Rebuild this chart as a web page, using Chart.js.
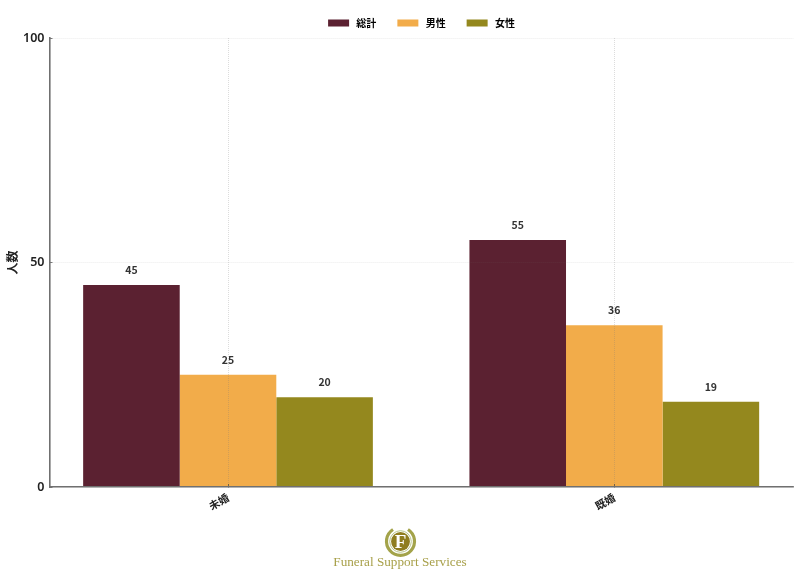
<!DOCTYPE html>
<html><head><meta charset="utf-8">
<style>
html,body{margin:0;padding:0;background:#fff;width:800px;height:578px;overflow:hidden}
#wrap{position:relative;width:800px;height:578px}
#logoText{position:absolute;left:0;width:800px;top:553px;text-align:center;font:13.2px "Liberation Serif",serif;color:#a8a04a;line-height:18px}
#logo{position:absolute;left:384px;top:527px}
</style>
<script src="https://cdn.jsdelivr.net/npm/chart.js@4"></script>
</head><body>
<div id="wrap">
<canvas id="c" width="800" height="578"></canvas>
<svg id="logo" width="33" height="31" viewBox="0 0 33 31">
<path d="M9 2.5 A14 14 0 1 0 24 2.5" fill="none" stroke="#a3a34a" stroke-width="3.2"/>
<circle cx="16.5" cy="14.5" r="10.8" fill="none" stroke="#b9c58c" stroke-width="1"/>
<circle cx="16.5" cy="14.5" r="9.4" fill="#8f7d20"/>
<text x="16.5" y="21" text-anchor="middle" font-family="Liberation Serif" font-weight="bold" font-size="19" fill="#fff">F</text>
</svg>
<div id="logoText">Funeral Support Services</div>
</div>
<script>
const categories = ['未婚', '既婚'];
const seriesNames = ['総計', '男性', '女性'];
const totalValues = [45, 55];
const maleValues = [25, 36];
const femaleValues = [20, 19];
const colors = ['#5b2131', '#f2ac4a', '#94881e'];
const yTicks = [0, 50, 100];
const cjk = '"Noto Sans CJK JP","Noto Sans",sans-serif';

const toPoints = vals => vals.map((v, i) => ({x: i, y: v}));
const barLabels = {
  id: 'barLabels',
  afterDatasetsDraw(chart) {
    const ctx = chart.ctx;
    ctx.save();
    ctx.font = '600 10.5px ' + cjk;
    ctx.fillStyle = '#333';
    ctx.textAlign = 'center';
    ctx.textBaseline = 'middle';
    chart.data.datasets.forEach((ds, d) => {
      chart.getDatasetMeta(d).data.forEach((bar, i) => {
        ctx.fillText(String(ds.data[i].y), bar.x, bar.y - 15);
      });
    });
    ctx.restore();
  }
};

new Chart(document.getElementById('c'), {
  type: 'bar',
  data: {
    datasets: [totalValues, maleValues, femaleValues].map((vals, i) => ({
      label: seriesNames[i],
      data: toPoints(vals),
      backgroundColor: colors[i],
      borderWidth: 0,
      barPercentage: 1,
      categoryPercentage: 0.75
    }))
  },
  options: {
    responsive: false,
    animation: false,
    layout: {padding: {left: 0, right: 6.5, top: -3, bottom: 0}},
    plugins: {
      tooltip: {enabled: false},
      legend: {
        position: 'top',
        align: 'center',
        fullSize: false,
        labels: {
          boxWidth: 21,
          boxHeight: 7,
          padding: 21,
          color: '#333',
          font: {family: cjk, size: 10, weight: '600', lineHeight: 1.1},
          generateLabels(chart) {
            return chart.data.datasets.map((ds, i) => ({
              text: ' ' + ds.label,
              fillStyle: ds.backgroundColor,
              strokeStyle: ds.backgroundColor,
              lineWidth: 0,
              datasetIndex: i
            }));
          }
        }
      }
    },
    scales: {
      x: {
        type: 'linear',
        offset: false,
        min: -0.4621,
        max: 1.4639,
        afterBuildTicks(s) { s.ticks = categories.map((_, i) => ({value: i})); },
        afterFit(s) { s.height = 91; },
        ticks: {
          includeBounds: false,
          autoSkip: false,
          minRotation: 30,
          maxRotation: 30,
          padding: 7,
          color: '#222',
          font: {family: cjk, size: 10.5, weight: '600'},
          callback: v => categories[v]
        },
        grid: {offset: false, color: 'rgba(120,120,120,0.38)', tickColor: '#444', tickLength: -3, lineWidth: 0.7, z: 1},
        border: {color: '#707070', width: 1.6, z: 2, dash: [1, 1]}
      },
      y: {
        min: 0,
        max: 100,
        afterBuildTicks(s) { s.ticks = yTicks.map(v => ({value: v})); },
        afterFit(s) { s.width = 49.5; },
        title: {display: true, text: '人数', color: '#222', padding: {top: 5, bottom: 0}, font: {family: cjk, size: 12, weight: '600'}},
        ticks: {padding: 8, color: '#222', font: {family: '"Noto Sans",sans-serif', size: 12.5, weight: '600'}},
        grid: {color: 'rgba(120,120,120,0.2)', tickColor: '#444', tickLength: -3, lineWidth: 0.7, z: 1},
        border: {color: '#707070', width: 1.6, z: 2, dash: [1, 1]}
      }
    }
  },
  plugins: [barLabels]
});
</script>
</body></html>
